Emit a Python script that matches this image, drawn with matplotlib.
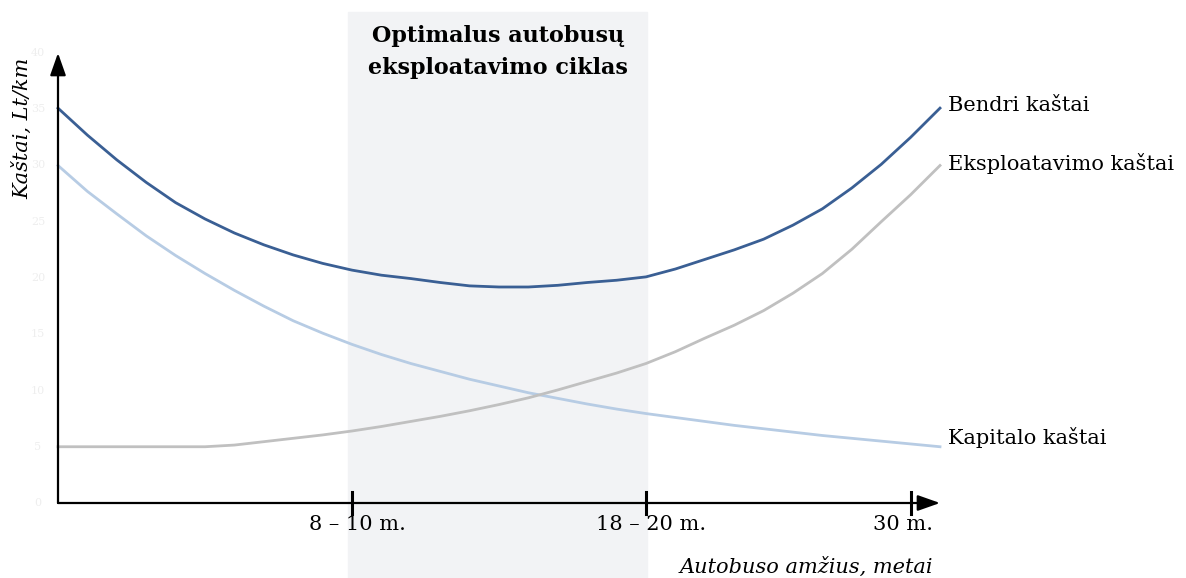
import matplotlib
matplotlib.use("Agg")
import matplotlib.pyplot as plt

# Data (costs vs bus age)
ages = list(range(0, 31))
bendri = [35.1, 32.7, 30.5, 28.5, 26.7, 25.25, 24.0, 22.95, 22.05, 21.3,
          20.7, 20.25, 19.95, 19.6, 19.3, 19.2, 19.2, 19.35, 19.6, 19.8,
          20.1, 20.8, 21.65, 22.5, 23.45, 24.7, 26.15, 28.0, 30.1, 32.5, 35.1]
eksploatavimo = [5.0, 5.0, 5.0, 5.0, 5.0, 5.0, 5.15, 5.45, 5.75, 6.05,
                 6.4, 6.8, 7.25, 7.7, 8.2, 8.75, 9.35, 10.05, 10.8, 11.55,
                 12.4, 13.45, 14.65, 15.8, 17.1, 18.65, 20.4, 22.55, 25.0, 27.4, 30.0]
kapitalo = [30.0, 27.7, 25.7, 23.75, 22.0, 20.4, 18.9, 17.5, 16.2, 15.1,
            14.1, 13.2, 12.4, 11.7, 11.0, 10.4, 9.8, 9.3, 8.8, 8.35,
            7.95, 7.6, 7.25, 6.9, 6.6, 6.3, 6.0, 5.75, 5.5, 5.25, 5.0]

series_names = ["Bendri kaštai", "Eksploatavimo kaštai", "Kapitalo kaštai"]
y_ticks = [0, 5, 10, 15, 20, 25, 30, 35, 40]
x_tick_pos = [10, 20, 29]
x_tick_labels = ["8 – 10 m.", "18 – 20 m.", "30 m."]
band = [9.86, 20.05]

plt.rcParams["font.family"] = ["DejaVu Serif"]

fig = plt.figure(figsize=(11.86, 5.78), dpi=100)
ax = fig.add_axes([0, 0, 1, 1])
# map data units onto the canvas: 29.4 px per year, 11.25 px per unit
ax.set_xlim(-58 / 29.4, (1186 - 58) / 29.4)
ax.set_ylim(-(578 - 503) / 11.25, 503 / 11.25)
ax.axis("off")

# optimal cycle band
ax.axvspan(band[0], band[1], ymin=0, ymax=(578 - 12) / 578, color="#f2f3f5", zorder=0)
ax.text((band[0] + band[1]) / 2, 40.1, "Optimalus autobusų\neksploatavimo ciklas",
        ha="center", va="center", fontsize=16, fontweight="bold", linespacing=1.55)

# curves
ax.plot(ages, kapitalo, color="#b7cce4", lw=2, zorder=3)
ax.plot(ages, eksploatavimo, color="#c0c0c0", lw=2, zorder=3)
ax.plot(ages, bendri, color="#3a5f94", lw=2, zorder=4)

# labels at curve ends
lx = ages[-1] + 0.27
ax.text(lx, bendri[-1] + 0.2, series_names[0], va="center", ha="left", fontsize=15)
ax.text(lx, eksploatavimo[-1] + 0.2, series_names[1], va="center", ha="left", fontsize=15)
ax.text(lx, kapitalo[-1] + 0.8, series_names[2], va="center", ha="left", fontsize=15)

# axes with arrows
arrow = dict(arrowstyle="-|>,head_length=0.68,head_width=0.24", mutation_scale=20,
             color="black", lw=1.6, shrinkA=0, shrinkB=0)
ax.annotate("", xy=(0, 40.0), xytext=(0, 0), arrowprops=arrow, zorder=5)
ax.annotate("", xy=(30.0, 0), xytext=(0, 0), arrowprops=arrow, zorder=5)

# x ticks
for i, (xp, lab) in enumerate(zip(x_tick_pos, x_tick_labels)):
    ax.plot([xp, xp], [-0.95, 0.95], color="black", lw=2.2, zorder=5)
    off = -0.25 if i == len(x_tick_pos) - 1 else 0.18
    ax.text(xp + off, -1.9, lab, ha="center", va="center", fontsize=15)

# faint y tick labels
for yv in y_ticks:
    ax.text(-0.68, yv, str(yv), ha="center", va="center", fontsize=8, color="#eeeeee")

ax.text(-1.22, 33.3, "Kaštai, Lt/km", rotation=90, ha="center", va="center",
        fontsize=15, style="italic")
ax.text(29.75, -5.7, "Autobuso amžius, metai", ha="right", va="center",
        fontsize=15, style="italic")

fig.savefig("out.png", dpi=100)
